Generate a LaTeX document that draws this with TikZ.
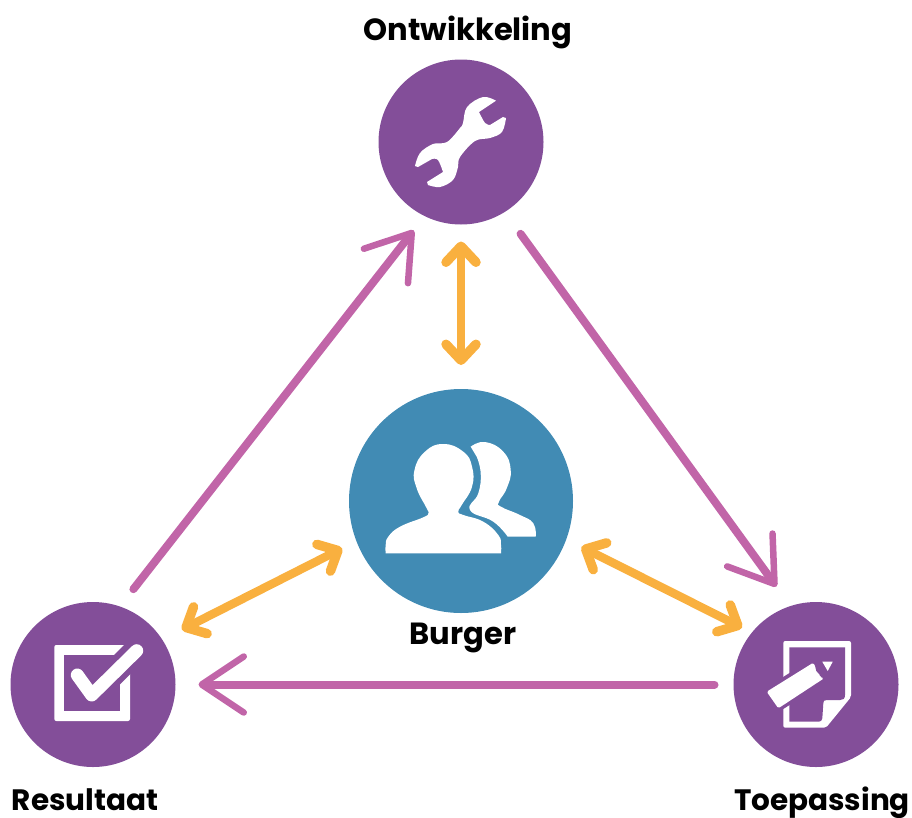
\documentclass[tikz,border=0pt]{standalone}
\usepackage{fontspec}
\setmainfont{Poppins}
\usetikzlibrary{arrows.meta}
\definecolor{paars}{HTML}{834E99}
\definecolor{blauw}{HTML}{418BB4}
\definecolor{roze}{HTML}{C165A8}
\definecolor{oranje}{HTML}{F9B03F}
\tikzset{
  hoofd/.style={circle,fill=paars,minimum size=165pt,inner sep=0pt,outer sep=0pt},
  midden/.style={circle,fill=blauw,minimum size=224pt,inner sep=0pt,outer sep=0pt},
  naam/.style={font=\fontsize{29.5}{36}\selectfont\bfseries,text=black,inner sep=0pt,anchor=base},
  grotenaam/.style={naam,font=\fontsize{30.6}{36}\selectfont\bfseries},
  cyclus/.style={draw=roze,line width=8pt,line cap=round,-{Straight Barb[length=42pt,width=56pt,round,line width=6.5pt]}},
  relatie/.style={draw=oranje,line width=8.5pt,line cap=round,{Straight Barb[length=16pt,width=30pt,round,line width=9.5pt]}-{Straight Barb[length=16pt,width=30pt,round,line width=9.5pt]}},
}
\begin{document}
\begin{tikzpicture}[x=1pt,y=-1pt]
\useasboundingbox (0,0) rectangle (912,817);
\node[hoofd] (ont) at (461,142) {};
\node[midden] (bur) at (461,501) {};
\node[hoofd] (res) at (93,684.5) {};
\node[hoofd] (toe) at (816,684.5) {};

\node[grotenaam] (ontnaam) at (468,40) {Ontwikkeling};
\node[grotenaam] (burnaam) at (463,644) {Burger};
\node[naam] (resnaam) at (85,810.5) {Resultaat};
\node[naam] (toenaam) at (822,810.5) {Toepassing};

\path[cyclus,shorten <=22pt,shorten >=18pt] (res.71.5) -- (ont.-116.8);
\path[cyclus,shorten <=27pt,shorten >=24pt] (ont.-58.8) -- (toe.108.5);
\path[cyclus,shorten <=19pt,shorten >=23pt] (toe.west) -- (res.east);
\path[relatie,shorten <=17pt,shorten >=24pt] (ont.south) -- (bur.north);
\path[relatie,shorten <=16pt,shorten >=22pt] (bur.201.9) -- (res.33.8);
\path[relatie,shorten <=17pt,shorten >=11pt] (bur.-20.4) -- (toe.141.6);

% moersleutel
\fill[white] plot[smooth,tension=.6] coordinates {(496,100.7) (483,97) (467,107) (463,123) (460,128) (447,142) (433,144) (420,153) (415,166)}
  -- (418,167) -- plot[smooth,tension=.6] coordinates {(432,159) (438,160) (443,172)}
  -- (427,182) -- plot[smooth,tension=.6] coordinates {(428,185) (440,187) (453,180) (458,167) (460,157) (475,141) (490,138) (502,132) (506,118)}
  -- (503,117) -- plot[smooth,tension=.6] coordinates {(490,125) (485,123) (479,112)} -- cycle;

% personen
\fill[white] plot[smooth,tension=.8] coordinates {(470.7,446.7) (485,442) (503.3,451.7) (510.7,470) (506.7,488.3) (499,501.7) (501,506.7) (520,515) (533.3,523.3) (535.7,536.7)}
  -- plot[smooth,tension=.8] coordinates {(507.7,536.7) (493.3,521.7) (470,510) (478.3,493.3) (480.7,473.3) (476.7,456.7)} -- cycle;
\fill[white] plot[smooth,tension=.8] coordinates {(385.7,553.3) (385.7,545) (388.3,536.7) (400,526.7) (423.3,517.3) (428.3,513.3) (426.7,508.3) (416.7,488.3) (414.5,470) (425,451.7) (443.3,444) (463.3,451.7) (472,466.7) (472,486.7) (461.7,505) (458.3,511.7) (463.3,515) (483.3,521.7) (498.3,535) (501,545) (501,553.3)} -- cycle;

% afvinkvak
\fill[white,rounded corners=2pt] (54.3,645) rectangle (130,721);
\fill[paars] (64.3,655) rectangle (120,711);
\draw[paars,line width=25pt] (91.7,695) -- (150,636.7);
\draw[white,line width=13pt,line cap=round,line join=round] (77.3,675) -- (91.7,695) -- (136.7,650.7);

% blad met potlood
\fill[white,rounded corners=2pt] (783.3,641) -- (851,641) -- (851,697) -- (826,727.7) -- (783.3,727.7) -- cycle;
\fill[paars] (789.3,647.3) -- (845,647.3) -- (845,695) .. controls (845,699) and (843,700) .. (840,700) -- (826.7,700) .. controls (824,700) and (823.3,701) .. (823.3,703.3) -- (822.3,718.3) .. controls (822,720) and (821,721.7) .. (819,721.7) -- (789.3,721.7) -- cycle;
\draw[paars,line width=27pt] (772.3,700) -- (818.7,670.3);
\fill[white,rounded corners=1.5pt] (766.7,691.7) -- (778.3,708.3) -- (824,678.3) -- (820,677) -- (819,673) -- (816,672) -- (815.5,667) -- (813.3,662.7) -- cycle;
\fill[white] (822.3,661.7) -- (832.7,661.7) -- (827.7,671) -- cycle;
\end{tikzpicture}
\end{document}
